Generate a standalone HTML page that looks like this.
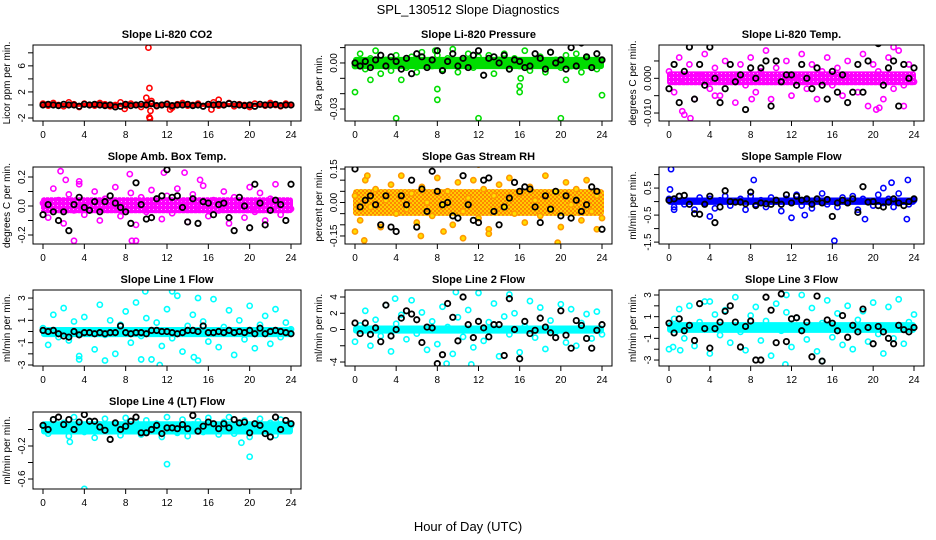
<!DOCTYPE html>
<html><head><meta charset="utf-8"><style>
body{margin:0;background:#fff;}
svg{display:block;font-family:"Liberation Sans",sans-serif;}
</style></head><body>
<svg id="chart" width="936" height="540" viewBox="0 0 936 540">
<defs>
<pattern id="rhpat" width="4" height="4" patternUnits="userSpaceOnUse">
<rect width="4" height="4" fill="#ffcc00"/><rect width="2" height="2" fill="#ff8800"/><rect x="2" y="2" width="2" height="2" fill="#ff8800"/>
</pattern>
<pattern id="magpat" width="4" height="4" patternUnits="userSpaceOnUse">
<rect width="4" height="4" fill="#ff00ff"/><rect x="1" y="1" width="1" height="1" fill="#ffaaff"/>
</pattern>
</defs>
<text x="468" y="14" text-anchor="middle" font-size="13">SPL_130512  Slope Diagnostics</text>
<text x="468" y="531" text-anchor="middle" font-size="13">Hour of Day (UTC)</text>
</svg>
<script>
// ---- Data ----
const titles = ["Slope Li-820 CO2","Slope Li-820 Pressure","Slope Li-820 Temp.","Slope Amb. Box Temp.","Slope Gas Stream RH","Slope Sample Flow","Slope Line 1 Flow","Slope Line 2 Flow","Slope Line 3 Flow","Slope Line 4 (LT) Flow"];
const yTitles = ["Licor ppm per min.","kPa per min.","degrees C per min.","degrees C per min.","percent per min.","ml/min per min.","ml/min per min.","ml/min per min.","ml/min per min.","ml/min per min."];
const colors = ["#ff0000","#00dd00","#ff00ff","#ff00ff","#ff9900","#0000ff","#00ffff","#00ffff","#00ffff","#00ffff"];
const xTicks = [0,4,8,12,16,20,24];
const yRanges = [[-2.46,9.2],[-0.0378,0.0117],[-0.0123,0.0096],[-0.262,0.269],[-0.186,0.159],[-1.57,1.28],[-3.09,3.72],[-4.49,4.86],[-3.55,3.46],[-0.721,0.212]];
const yTickVals = [[-2,0,2,4,6,8],[-0.03,-0.02,-0.01,0,0.01],[-0.01,-0.005,0,0.005],[-0.2,-0.1,0,0.1,0.2],[-0.15,-0.1,-0.05,0,0.05,0.1,0.15],[-1.5,-1,-0.5,0,0.5,1],[-3,-2,-1,0,1,2,3],[-4,-2,0,2,4],[-3,-2,-1,0,1,2,3],[-0.6,-0.4,-0.2,0]];
const yTickLabels = [{"-2":"-2","2":"2","6":"6"},{"-0.03":"-0.03","0":"0.00"},{"-0.01":"-0.010","0":"0.000"},{"-0.2":"-0.2","0":"0.0","0.2":"0.2"},{"-0.15":"-0.15","0":"0.00","0.15":"0.15"},{"-1.5":"-1.5","-0.5":"-0.5","0.5":"0.5"},{"-3":"-3","-1":"-1","1":"1","3":"3"},{"-4":"-4","0":"0","2":"2","4":"4"},{"-3":"-3","-1":"-1","1":"1","3":"3"},{"-0.6":"-0.6","-0.2":"-0.2"}];
const bandLo = [-0.3,-0.004,-0.002,-0.05,-0.06,-0.12,-0.5,-0.5,-0.5,-0.06];
const bandHi = [0.3,0.004,0.002,0.06,0.06,0.15,0.4,0.5,0.5,0.1];
const colorVals = [
[0.2,-0.1,0.3,0.0,-0.2,0.4,0.1,-0.3,0.2,0.0,-0.1,0.3,0.1,-0.2,0.0,0.4,-0.1,0.2,0.0,-0.3,0.1,0.3,-0.2,0.0,0.2,-0.4,0.1,0.3,-0.1,0.0,0.2,-0.2,0.1,0.4,-0.1,0.0,0.3,-0.2,0.1,0.0,-0.3,0.2,0.1,-0.1,0.3,0.0,-0.2,0.2,0.0],
[-0.002,0.006,-0.004,0.003,0.008,-0.007,0.002,-0.005,0.005,0.001,-0.003,0.004,-0.006,0.007,0.000,-0.002,0.005,-0.004,0.003,0.009,-0.006,0.001,0.006,-0.003,0.004,-0.001,0.005,-0.007,0.002,0.006,-0.004,0.003,-0.002,0.008,-0.005,0.001,0.004,-0.006,0.007,0.002,-0.003,0.005,-0.002,0.006,-0.006,0.003,0.001,-0.004,0.002],
[0.002,-0.004,0.006,-0.001,0.004,-0.006,0.001,0.007,-0.003,0.003,-0.005,0.005,0.000,-0.007,0.004,-0.002,0.006,-0.004,0.002,0.008,-0.006,0.003,-0.001,0.005,-0.005,0.001,0.007,-0.003,0.004,-0.006,0.002,0.006,-0.002,0.003,-0.005,0.005,0.000,-0.004,0.007,-0.008,0.004,0.002,-0.006,0.006,-0.003,0.008,-0.002,0.004,-0.001],
[0.02,-0.08,0.12,0.04,-0.12,0.08,-0.03,0.15,-0.06,0.01,0.10,-0.10,0.05,-0.02,0.13,-0.07,0.03,0.09,-0.13,0.06,-0.04,0.11,0.00,-0.09,0.07,-0.05,0.12,0.02,-0.11,0.08,-0.01,0.14,-0.07,0.04,-0.03,0.10,-0.12,0.06,0.01,-0.08,0.13,-0.04,0.09,-0.10,0.05,0.15,-0.06,0.03,-0.02],
[0.03,-0.08,0.10,-0.02,0.06,-0.11,0.01,0.08,-0.05,0.12,-0.03,0.04,-0.09,0.07,0.00,-0.06,0.11,-0.01,0.05,-0.10,0.09,-0.04,0.02,0.10,-0.07,0.06,-0.12,0.03,0.08,-0.02,0.11,-0.05,0.04,-0.09,0.07,0.01,-0.06,0.12,-0.03,0.05,-0.11,0.09,-0.01,0.06,-0.08,0.10,-0.04,0.03,-0.07],
[0.1,-0.2,0.2,-0.1,0.0,-0.3,0.15,-0.05,0.1,-0.25,0.05,0.2,-0.15,0.0,0.1,-0.3,0.2,-0.1,0.05,-0.2,0.15,0.0,-0.35,0.1,-0.05,0.25,-0.15,0.05,-0.25,0.1,0.3,-0.1,0.0,-0.2,0.15,-0.05,0.2,-0.3,0.1,0.0,-0.15,0.25,-0.05,0.1,-0.2,0.3,0.0,-0.1,0.05],
[0.3,-1.2,1.5,-0.5,2.1,-0.8,0.9,-2.2,1.3,0.0,-1.6,2.4,-0.3,1.0,-2.0,0.6,1.8,-1.0,2.6,-0.4,1.2,-2.5,0.8,-1.3,2.0,-0.6,3.2,-1.8,0.5,1.5,-2.6,0.9,-0.9,2.9,-1.4,0.4,1.9,-2.1,1.0,-0.7,2.3,-1.5,0.6,1.4,-1.1,2.0,-0.5,0.8,0.2],
[-1.5,0.5,2.3,-2.0,1.2,-0.8,3.0,-2.7,0.7,1.8,-1.2,3.6,-0.5,2.1,-2.5,1.0,-1.8,2.8,0.3,-3.0,1.5,-0.9,2.4,-2.2,4.5,-1.4,0.9,3.2,-3.3,1.6,-0.6,2.0,-2.8,0.4,3.5,-1.0,2.7,-2.4,1.1,-0.3,3.1,-1.6,2.5,-2.0,0.8,1.9,-1.1,2.2,-0.6],
[-2.0,0.8,1.7,-1.0,2.0,-1.7,0.5,2.4,-2.4,1.2,-0.7,1.6,-1.4,2.8,-0.4,-2.1,1.1,1.9,-1.2,0.6,-2.6,2.2,-0.3,1.4,-1.8,0.9,3.0,-1.1,1.8,-2.2,0.4,2.5,-0.9,1.3,-1.6,2.0,-2.0,0.7,1.5,-1.3,2.3,-0.6,-2.4,1.9,-1.0,2.6,-1.5,0.5,1.2],
[0.05,-0.05,0.12,0.0,0.08,-0.08,0.15,0.02,-0.03,0.10,-0.10,0.06,0.13,-0.02,0.04,-0.07,0.14,0.01,0.09,-0.06,0.11,-0.01,0.07,-0.09,0.15,0.03,-0.04,0.12,-0.08,0.06,0.10,-0.03,0.14,0.00,-0.06,0.09,0.15,-0.05,0.04,0.11,-0.09,0.07,0.13,-0.02,0.08,-0.07,0.12,0.02,0.05]
];
const blackVals = [
[0.0,0.1,0.0,-0.1,0.1,0.0,0.0,-0.2,0.1,0.0,0.1,0.0,-0.1,0.0,-0.3,-0.2,0.1,-0.1,0.0,0.1,0.0,0.2,-0.1,0.0,0.1,-0.1,0.0,0.0,0.1,-0.1,0.0,-0.2,0.1,0.0,0.1,0.0,0.2,0.1,0.0,-0.1,0.0,-0.2,0.1,0.0,0.0,0.1,-0.1,0.0,0.0],
[0.000,-0.002,0.001,-0.003,0.002,0.005,-0.002,0.004,0.001,-0.004,0.003,-0.007,0.006,0.004,-0.003,0.002,0.008,-0.005,0.001,0.006,-0.002,0.003,-0.003,0.005,0.008,-0.008,0.003,0.004,0.000,0.005,-0.004,0.002,0.001,-0.003,-0.002,0.006,0.003,-0.004,0.007,0.000,0.002,-0.004,0.010,-0.002,0.013,0.004,-0.003,0.006,0.002],
[-0.003,0.004,-0.007,0.002,0.009,-0.006,0.004,-0.002,0.009,0.000,-0.007,-0.003,0.004,-0.001,0.001,-0.009,0.003,0.000,0.003,0.005,-0.008,0.005,-0.001,0.001,0.001,-0.002,0.004,0.000,-0.003,0.003,-0.002,-0.006,0.002,-0.004,0.001,-0.007,-0.004,0.004,-0.004,0.005,0.012,0.010,-0.002,0.003,0.005,-0.008,0.004,0.000,0.003],
[-0.06,0.01,-0.04,-0.10,-0.04,-0.17,0.01,0.06,-0.01,-0.03,0.03,-0.04,0.03,0.07,0.02,-0.01,-0.04,-0.12,0.16,0.01,-0.09,-0.08,0.05,0.07,0.25,0.06,0.07,-0.01,-0.11,0.05,-0.12,0.03,0.02,-0.06,0.01,0.02,-0.08,-0.17,0.06,0.00,-0.15,0.15,0.02,-0.13,-0.03,0.04,0.01,-0.10,0.15],
[0.15,-0.02,0.01,0.03,-0.01,-0.10,0.03,-0.11,-0.13,0.03,-0.01,0.10,-0.11,0.06,-0.04,0.14,0.05,-0.01,0.00,-0.06,-0.07,0.12,-0.01,-0.08,-0.09,0.10,0.11,-0.04,-0.10,-0.02,0.02,0.09,0.05,0.07,0.06,-0.02,-0.09,0.03,-0.03,0.05,-0.06,0.03,-0.07,0.01,-0.04,-0.01,0.07,0.05,-0.12],
[0.05,0.1,0.2,0.23,-0.1,-0.45,-0.47,-0.1,0.2,-0.78,-0.2,0.4,0.0,-0.02,-0.02,-0.08,0.35,-0.15,-0.05,-0.08,-0.1,0.05,-0.1,0.25,-0.05,0.2,0.05,0.1,-0.1,0.1,-0.05,0.08,-0.55,-0.05,0.05,-0.05,0.1,-0.4,0.55,-0.02,0.0,-0.15,-0.2,-0.02,0.1,-0.05,-0.15,0.0,0.1],
[0.1,0.0,0.1,-0.2,-0.4,-0.5,0.0,-0.3,-0.1,-0.1,-0.2,-0.1,-0.2,-0.1,-0.1,0.5,-0.1,-0.2,-0.1,-0.1,-0.2,0.1,0.1,0.0,0.0,-0.1,-0.2,-0.1,0.1,0.1,0.0,0.5,-0.1,-0.1,0.0,-0.1,0.1,-0.1,0.0,-0.1,0.1,-0.2,0.3,-0.2,0.0,0.1,0.0,-0.1,-0.2],
[0.8,-0.5,0.8,-0.6,0.2,-1.5,3.0,-0.8,0.0,1.4,2.3,1.9,1.2,-1.6,0.3,0.2,-4.2,-3.1,3.2,1.5,-1.4,4.0,0.6,-1.0,1.0,0.2,-0.9,0.6,0.6,-3.2,3.8,0.0,-3.6,1.0,-0.5,-0.1,1.4,0.3,-0.4,-1.0,2.3,-0.7,-2.3,1.1,0.5,-1.1,-2.3,-0.1,0.6],
[0.4,-0.5,0.8,-0.3,0.2,-1.2,2.2,-0.1,-1.9,-0.1,0.5,1.5,2.0,0.5,-1.8,0.1,0.6,-3.0,-3.0,2.8,1.6,-1.4,3.1,-1.3,0.8,0.9,-0.3,0.5,-2.7,2.9,-3.1,0.7,0.4,-0.3,1.1,-0.9,0.2,-0.4,1.7,0.0,-1.5,0.1,-0.4,-1.0,-1.5,0.2,-0.2,-0.4,0.0],
[0.05,0.0,0.12,0.15,0.06,0.12,0.0,0.09,0.18,0.10,0.10,0.03,-0.01,-0.12,0.08,0.0,0.04,0.10,0.15,-0.04,-0.04,0.0,0.05,-0.05,0.02,0.02,0.01,0.06,0.01,0.17,-0.02,0.04,0.09,0.07,0.01,0.07,0.02,0.12,0.08,0.09,-0.04,0.07,0.05,-0.05,-0.09,0.15,0.0,0.11,0.07]
];
const outlierT = [
[10.2,10.3,10.0,10.3,10.35,10.4,12.3,17.0,16.3,7.9,10.5],
[0,4,8,8,12,16,16,20,24,1.5,4.5,16.1,20.5,7.8],
[0.7,1.3,1.5,2.1,20.3,20.6,22.0,23.0,8.1,4.5],
[1.7,2.2,3.0,8.4,8.6,9.0,11.7,13.7,15.2,3.5],
[0,0.9,6.4,8.6,10.5,12.0,13.0,19.7,23.5,13.3,1.2],
[0.2,0.1,8.3,16.2,4.0,0.5,12.0,21.8,23.4,19.2,23.3,21.0,13.3],
[9.9,11.3,12.5,6.0,9.5,14.6,15.0,3.5],
[9.8,11.3,8.9,15.0,3.9],
[11.5,11.4,15.0,4.0,0.4,1.1],
[4.0,12.0,20.0,19.2,2.6]
];
const outlierV = [
[8.8,2.6,1.1,-1.9,-2.1,-0.9,-0.7,0.8,-0.7,-0.6,0.6],
[-0.019,-0.036,-0.017,-0.024,-0.036,-0.019,-0.015,-0.036,-0.021,-0.011,-0.011,-0.010,-0.011,0.008],
[0.012,-0.0095,-0.0105,-0.0115,-0.009,-0.0085,0.009,-0.008,-0.006,-0.005],
[0.24,0.18,-0.24,0.22,-0.24,-0.24,0.23,0.23,0.18,0.17],
[-0.13,-0.17,-0.15,-0.13,-0.16,0.17,-0.14,-0.18,-0.12,0.19,0.12],
[1.2,0.45,0.8,-1.45,-0.55,-0.3,-0.6,0.7,0.8,-0.65,-0.65,0.5,-0.5],
[3.6,-3.0,3.6,-2.6,-2.5,-2.3,3.0,-2.5],
[4.6,-4.3,-4.2,4.3,3.8],
[3.0,-3.4,-3.1,2.4,-1.8,-2.1],
[-0.72,-0.42,-0.33,-0.16,-0.15]
];
const hourStep = 0.5;

// ---- Layout ----
const NS = "http://www.w3.org/2000/svg";
const svg = document.getElementById("chart");
const colX = [[33,301],[345,612],[659,924]];
const rowY = [[45,121],[167,244],[290,366],[412,489]];
const bandFills = ["#ff0000","#00dd00","url(#magpat)","url(#magpat)","url(#rhpat)","#0000ff","#00ffff","#00ffff","#00ffff","#00ffff"];
function mk(tag, attrs, parent){
  const e = document.createElementNS(NS, tag);
  for (const k in attrs) e.setAttribute(k, attrs[k]);
  (parent||svg).appendChild(e);
  return e;
}
for (let p = 0; p < titles.length; p++){
  const [x0,x1] = colX[p%3], [y0,y1] = rowY[Math.floor(p/3)];
  const [ymin,ymax] = yRanges[p];
  const xs = t => x0 + 10 + (t/24)*(x1-x0-20);
  const ys = v => y1 - (v-ymin)/(ymax-ymin)*(y1-y0);
  const g = mk("g", {});
  
  
  const cp = mk("clipPath", {id:"clip"+p}, g);
  mk("rect", {x:x0,y:y0,width:x1-x0,height:y1-y0}, cp);
  const tt = mk("text", {x:(x0+x1)/2, y:y0-7, "text-anchor":"middle","font-size":"11","font-weight":"bold"}, g);
  tt.textContent = titles[p];
  
  
  const yc = (y0+y1)/2;
  const yt = mk("text", {x:0,y:0,transform:`translate(${x0-23},${yc}) rotate(-90)`,"text-anchor":"middle","font-size":"10"}, g);
  yt.textContent = yTitles[p];
  
  
  const xa = mk("g", {stroke:"#000","stroke-width":"1"}, g);
  
  
  mk("line", {x1:xs(xTicks[0]),x2:xs(xTicks[xTicks.length-1]),y1:y1,y2:y1}, xa);
  xTicks.forEach(t => {
    mk("line", {x1:xs(t),x2:xs(t),y1:y1,y2:y1+5}, xa);
    const l = mk("text", {x:xs(t),y:y1+17,"text-anchor":"middle","font-size":"10",stroke:"none"}, xa);
    l.textContent = t;
    
    
  });
  const ya = mk("g", {stroke:"#000","stroke-width":"1"}, g);
  
  
  const yt0 = yTickVals[p];
  mk("line", {x1:x0,x2:x0,y1:ys(yt0[0]),y2:ys(yt0[yt0.length-1])}, ya);
  yt0.forEach(v => {
    mk("line", {x1:x0-5,x2:x0,y1:ys(v),y2:ys(v)}, ya);
    const lab = yTickLabels[p][String(v)];
    if (lab !== undefined){
      const l = mk("text", {x:0,y:0,transform:`translate(${x0-8},${ys(v)}) rotate(-90)`,"text-anchor":"middle","font-size":"10",stroke:"none"}, ya);
      l.textContent = lab;
      
      
    }
  });
  const pg = mk("g", {"clip-path":`url(#clip${p})`}, g);
  const col = colors[p];
  const band = mk("rect", {x:xs(0)-2,y:ys(bandHi[p]),width:xs(24)-xs(0)+4,height:ys(bandLo[p])-ys(bandHi[p]),fill:bandFills[p],rx:3}, pg);
  
  
  const fillC = p===4 ? "#ffdd00" : "none";
  colorVals[p].forEach((v,i) => {
    const c = mk("circle", {cx:xs(i*hourStep),cy:ys(v),r:2.6,fill:fillC,stroke:col,"stroke-width":1.6}, pg);
    
    
  });
  outlierT[p].forEach((t,i) => {
    const c = mk("circle", {cx:xs(t),cy:ys(outlierV[p][i]),r:2.6,fill:fillC,stroke:col,"stroke-width":1.6}, pg);
    
    
  });
  blackVals[p].forEach((v,i) => {
    const c = mk("circle", {cx:xs(i*hourStep),cy:ys(v),r:2.7,fill:"none",stroke:"#000","stroke-width":1.8}, pg);
    
    
  });
  const box = mk("rect", {x:x0,y:y0,width:x1-x0,height:y1-y0,fill:"none",stroke:"#000","stroke-width":1}, g);
  
  
}
</script>
</body></html>
